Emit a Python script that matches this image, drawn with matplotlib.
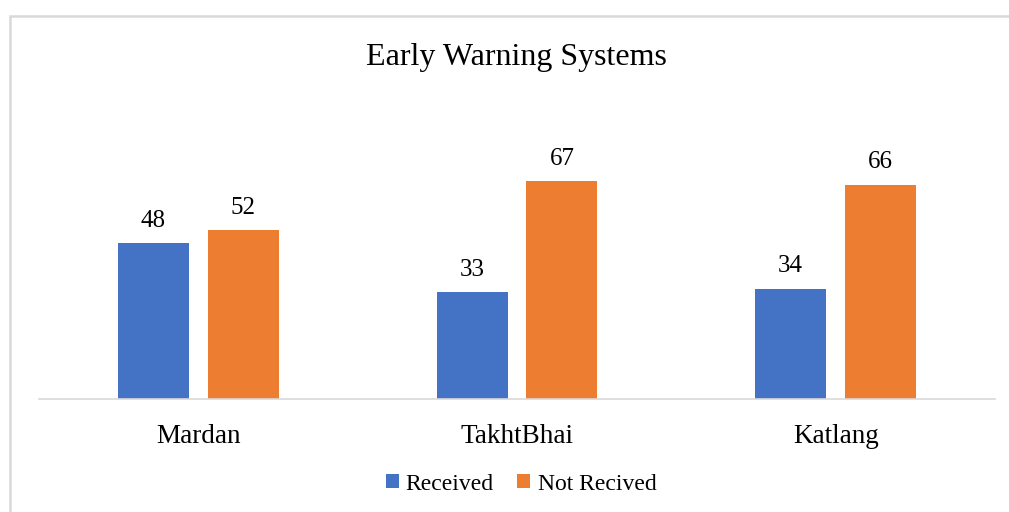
import numpy as np
import matplotlib.pyplot as plt
from matplotlib.patches import Rectangle

# Survey responses per tehsil
districts = ["Mardan", "TakhtBhai", "Katlang"]
received = [48, 33, 34]
not_received = [52, 67, 66]

BLUE = "#4472c4"
ORANGE = "#ed7d31"

plt.rcParams["font.family"] = ["Liberation Serif", "DejaVu Serif"]

fig = plt.figure(figsize=(10.09, 5.12), dpi=100)

# light grey chart frame
fig.patches.append(Rectangle((10 / 1009, -0.1), 1.2, 1 - 16 / 512 + 0.1,
                             transform=fig.transFigure, fill=False,
                             edgecolor="#d9d9d9", linewidth=1.8))

ax = fig.add_axes([39 / 1009, 1 - 399 / 512, 956 / 1009, 260 / 512])

x = np.arange(len(districts))
w = 0.223
off = 0.141
b1 = ax.bar(x - off, received, w, color=BLUE, label="Received")
b2 = ax.bar(x + off, not_received, w, color=ORANGE, label="Not Recived")

for bars, vals in ((b1, received), (b2, not_received)):
    for rect, v in zip(bars, vals):
        ax.text(rect.get_x() + rect.get_width() / 2, v + 6.8, str(v),
                ha="center", va="center", fontsize=18)

ax.set_xlim(-0.5, 2.5)
ax.set_ylim(0, 80)
ax.set_xticks(x)
ax.set_xticklabels(districts, fontsize=19.5)
ax.tick_params(axis="x", length=0, pad=18)
ax.set_yticks([])
for s in ("top", "right", "left"):
    ax.spines[s].set_visible(False)
ax.spines["bottom"].set_color("#d9d9d9")
ax.spines["bottom"].set_linewidth(1.2)

fig.text(516 / 1009, 1 - 58 / 512, "Early Warning Systems",
         ha="center", va="center", fontsize=23)

fig.legend(loc="center", bbox_to_anchor=(521 / 1009, 1 - 484 / 512),
           ncol=2, frameon=False, fontsize=17, handlelength=0.55,
           handleheight=0.55, handletextpad=0.3, columnspacing=1.0)

fig.savefig("out.png", dpi=100, facecolor="white")
